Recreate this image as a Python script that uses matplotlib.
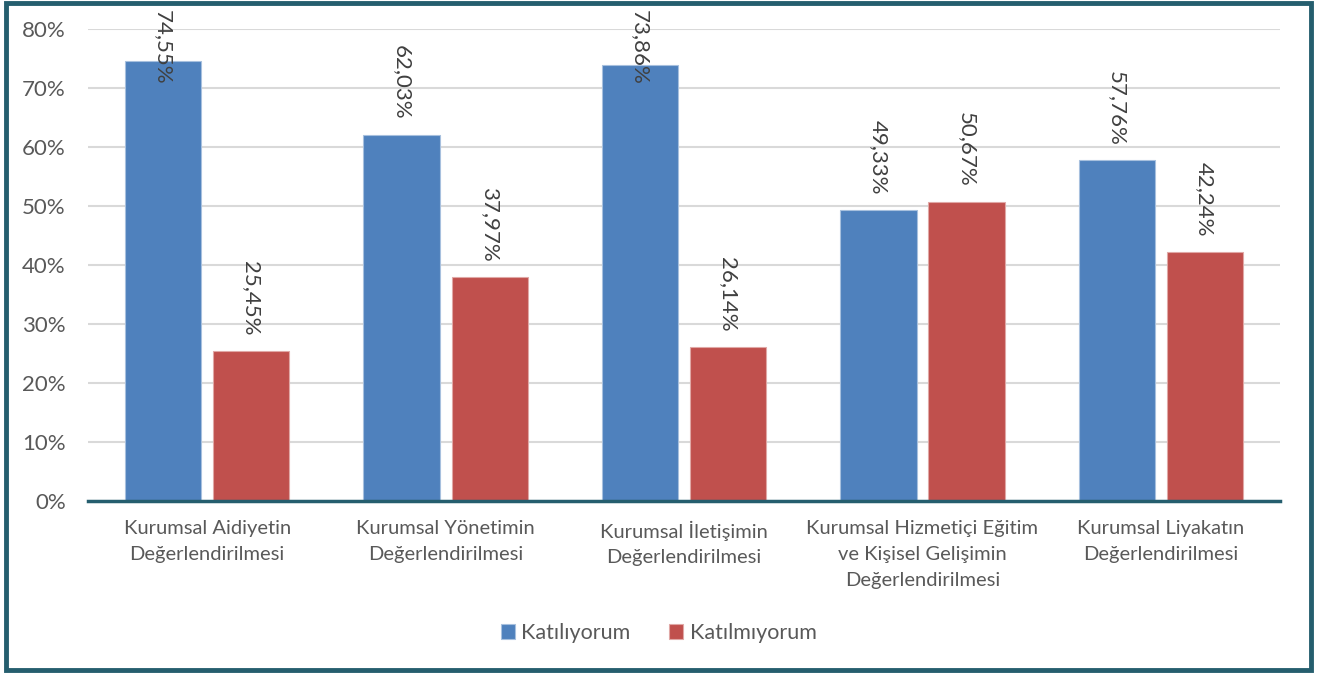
import numpy as np
import matplotlib
matplotlib.use("Agg")
import matplotlib.pyplot as plt
from matplotlib.patches import Rectangle

# data
categories = [
    "Kurumsal Aidiyetin\nDeğerlendirilmesi",
    "Kurumsal Yönetimin\nDeğerlendirilmesi",
    "Kurumsal İletişimin\nDeğerlendirilmesi",
    "Kurumsal Hizmetiçi Eğitim\nve Kişisel Gelişimin\nDeğerlendirilmesi",
    "Kurumsal Liyakatın\nDeğerlendirilmesi",
]
katiliyorum = [74.55, 62.03, 73.86, 49.33, 57.76]
katilmiyorum = [25.45, 37.97, 26.14, 50.67, 42.24]
series_names = ["Katılıyorum", "Katılmıyorum"]
yticks = [0, 10, 20, 30, 40, 50, 60, 70, 80]

plt.rcParams["font.family"] = ["Lato", "DejaVu Sans"]

blue = "#4F81BD"
red = "#C0504D"
teal = "#255E6E"
txt = "#595959"

fig = plt.figure(figsize=(13.17, 6.75), dpi=100)
ax = fig.add_axes([0.0668, 0.2578, 0.9052, 0.6992])

x = np.arange(len(categories))
w = 0.32
off = 0.185
ax.bar(x - off, katiliyorum, w, color=blue, edgecolor="#A7C0DE", linewidth=0.8,
       label=series_names[0], zorder=3)
ax.bar(x + off, katilmiyorum, w, color=red, edgecolor="#E0A8A6", linewidth=0.8,
       label=series_names[1], zorder=3)

# data labels, rotated, pushed down when no room above
for xs, vals in [(x - off, katiliyorum), (x + off, katilmiyorum)]:
    for xi, v in zip(xs, vals):
        label = ("%.2f%%" % v).replace(".", ",")
        ytop = min(v + 15.2, 83.2)
        ax.text(xi, ytop, label, rotation=-90, ha="center", va="top",
                fontsize=16, color="#404040", clip_on=False, zorder=4)

ax.set_xlim(-0.5, len(categories) - 0.5)
ax.set_ylim(0, 80)
ax.set_yticks(yticks)
ax.set_yticklabels(["%d%%" % t for t in yticks])
ax.set_xticks(x)
ax.set_xticklabels(categories, linespacing=1.62)
ax.tick_params(axis="y", length=0, pad=16, labelsize=16, labelcolor=txt)
ax.tick_params(axis="x", length=0, pad=14, labelsize=14.5, labelcolor=txt)
ax.grid(axis="y", color="#D9D9D9", linewidth=1.5, zorder=0)
for s in ["top", "right", "left"]:
    ax.spines[s].set_visible(False)
ax.spines["bottom"].set_color(teal)
ax.spines["bottom"].set_linewidth(2.5)
ax.spines["bottom"].set_zorder(5)

fig.legend(loc="center", bbox_to_anchor=(0.5, 0.062), ncol=2, frameon=False,
           fontsize=15.5, handlelength=0.65, handleheight=0.65, handletextpad=0.3,
           columnspacing=1.8, labelcolor=txt)

fig.patches.append(Rectangle((0.0045, 0.0075), 0.991, 0.988, transform=fig.transFigure,
                             fill=False, edgecolor=teal, linewidth=3.5))

plt.savefig("out.png", dpi=100)
